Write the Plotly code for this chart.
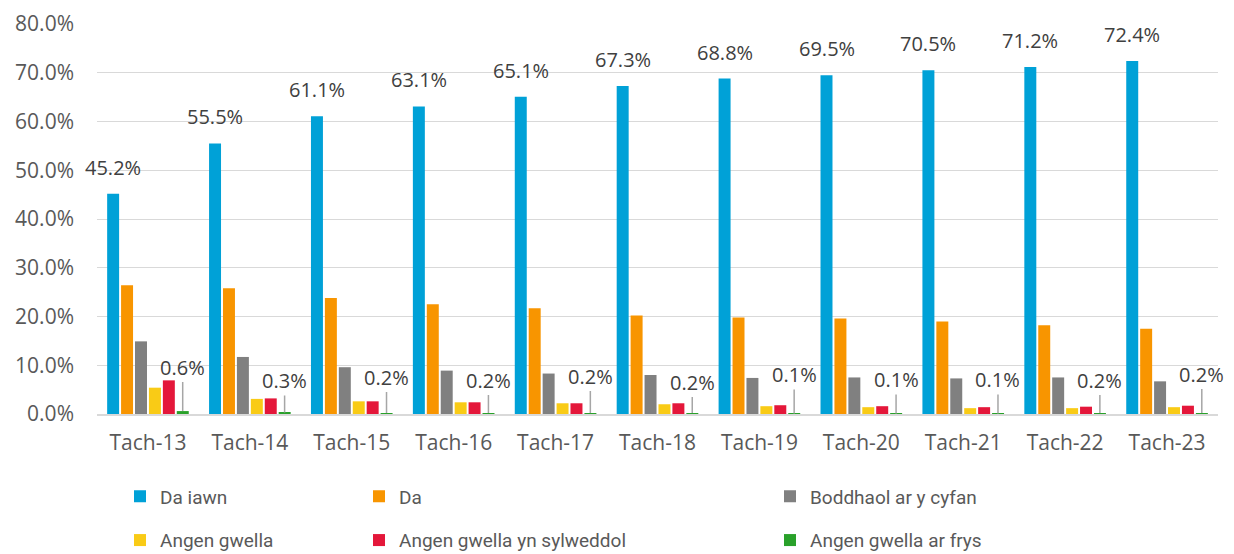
import plotly.graph_objects as go

categories = ["Tach-13", "Tach-14", "Tach-15", "Tach-16", "Tach-17", "Tach-18",
              "Tach-19", "Tach-20", "Tach-21", "Tach-22", "Tach-23"]
da_iawn = [45.2, 55.5, 61.1, 63.1, 65.1, 67.3, 68.8, 69.5, 70.5, 71.2, 72.4]
da = [26.4, 25.8, 23.8, 22.5, 21.7, 20.2, 19.8, 19.6, 19.0, 18.2, 17.5]
boddhaol = [14.9, 11.7, 9.6, 8.9, 8.3, 8.0, 7.4, 7.5, 7.3, 7.5, 6.7]
angen_gwella = [5.4, 3.1, 2.6, 2.4, 2.2, 2.0, 1.6, 1.4, 1.2, 1.2, 1.4]
angen_sylweddol = [6.9, 3.2, 2.6, 2.4, 2.2, 2.2, 1.8, 1.6, 1.4, 1.5, 1.7]
angen_frys = [0.6, 0.3, 0.2, 0.2, 0.2, 0.2, 0.1, 0.1, 0.1, 0.2, 0.2]

series_names = ["Da iawn", "Da", "Boddhaol ar y cyfan", "Angen gwella",
                "Angen gwella yn sylweddol", "Angen gwella ar frys"]
series_values = [da_iawn, da, boddhaol, angen_gwella, angen_sylweddol, angen_frys]
colors = ["#00A1D7", "#F89500", "#808080", "#F9CB16", "#E4173A", "#29A12A"]
legend_ids = ["legend", "legend2", "legend3", "legend", "legend2", "legend3"]

# style: vertical pixel offsets of the leader-line labels
frys_label_offsets = [-44, -32, -36, -33, -37, -31, -39, -34, -34, -33, -39]

fig = go.Figure()
for name, vals, col, lg in zip(series_names, series_values, colors, legend_ids):
    fig.add_trace(go.Bar(
        x=categories, y=[v / 100 for v in vals], name=name,
        marker=dict(color=col, line=dict(width=0)),
        legend=lg, legendgroup=name, hoverinfo="skip",
    ))

label_font = dict(family="Open Sans", size=20, color="#404040")
slot_px = 13.9
for c, v in zip(categories, da_iawn):
    fig.add_annotation(x=c, y=v / 100, text=f"{v:.1f}%", showarrow=False,
                       xshift=-2.5 * slot_px, yanchor="bottom", yshift=11,
                       font=label_font)
for c, v, off in zip(categories, angen_frys, frys_label_offsets):
    fig.add_annotation(x=c, y=v / 100, text=f"{v:.1f}%", showarrow=True,
                       arrowhead=0, arrowwidth=1.5, arrowcolor="#A6A6A6",
                       ax=0, ay=off, standoff=0, xshift=2.5 * slot_px,
                       font=label_font)

W, H = 1226, 546  # page body adds 8px offset
legend_common = dict(orientation="v", xref="container", yref="container",
                     xanchor="left", yanchor="middle", y=0.065,
                     font=dict(family="Roboto", size=19, color="#595959"),
                     tracegroupgap=16, bgcolor="rgba(0,0,0,0)",
                     itemclick=False, itemdoubleclick=False)

fig.update_layout(
    width=W, height=H,
    margin=dict(l=89, r=16, t=16, b=140, autoexpand=False),
    paper_bgcolor="white", plot_bgcolor="white",
    barmode="group", bargap=0.18, bargroupgap=0.14,
    showlegend=True,
    legend=dict(x=112 / W, **legend_common),
    legend2=dict(x=351 / W, **legend_common),
    legend3=dict(x=762 / W, **legend_common),
    xaxis=dict(
        type="category", automargin=False, range=[-0.5, len(categories) - 0.5],
        tickfont=dict(family="Open Sans", size=21, color="#595959"),
        showline=True, linecolor="#D9D9D9", linewidth=2,
        ticks="", ticklabelstandoff=9, showgrid=False, tickangle=0,
    ),
    yaxis=dict(
        range=[0, 0.8], dtick=0.1, tickformat=".1%", automargin=False,
        tickfont=dict(family="Open Sans", size=21, color="#595959"),
        showgrid=True, gridcolor="#D9D9D9", gridwidth=1,
        zeroline=False, showline=False, ticks="", ticklabelstandoff=22,
    ),
)

fig.write_html("out.html")
